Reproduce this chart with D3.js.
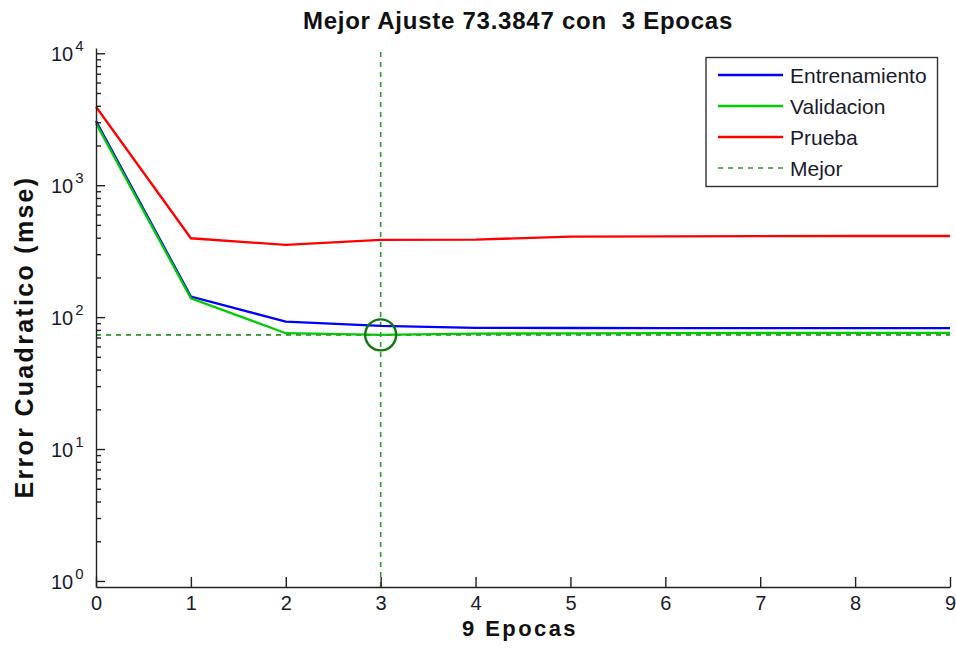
<!DOCTYPE html>
<html>
<head>
<meta charset="utf-8">
<script src="https://cdn.jsdelivr.net/npm/d3@7"></script>
<style>
  html, body { margin: 0; padding: 0; background: #fff; }
  svg { display: block; font-family: "Liberation Sans", Arial, sans-serif; }
</style>
</head>
<body>
<svg id="chart" width="956" height="648"></svg>
<script>
// Training performance per epoch (mean squared error, log scale)
const epochs = [0, 1, 2, 3, 4, 5, 6, 7, 8, 9];
const entrenamiento = [3070, 143, 92.6, 85.9, 83.0, 82.7, 82.5, 82.5, 82.4, 82.4];
const validacion    = [2945, 139, 75.5, 73.3847, 75.0, 75.3, 75.6, 75.8, 76.0, 76.0];
const prueba        = [3935, 396, 353, 385, 387, 408, 410, 411, 412, 412];
const bestEpoch = 3;
const bestValue = 73.3847;
const xTicks = [0, 1, 2, 3, 4, 5, 6, 7, 8, 9];
const yDecades = [0, 1, 2, 3, 4];
const seriesNames = ["Entrenamiento", "Validacion", "Prueba", "Mejor"];
const titleText = "Mejor Ajuste 73.3847 con  3 Epocas";
const xLabelText = "9 Epocas";
const yLabelText = "Error Cuadratico (mse)";

const colors = { train: "#0000ff", val: "#00cc00", test: "#ff0000", best: "#2e9a2e", circle: "#0e780e" };

const svg = d3.select("#chart");
const plotLeft = 96, plotRight = 950, plotTop = 48, plotBottom = 587;

const x = d3.scaleLinear().domain([0, 9]).range([plotLeft, plotRight]);
const y = d3.scaleLog().domain([0.9, 10965]).range([plotBottom, plotTop]);

// Best-epoch guide lines
svg.append("line")
  .attr("x1", x(bestEpoch)).attr("x2", x(bestEpoch))
  .attr("y1", plotTop + 4).attr("y2", plotBottom)
  .attr("stroke", colors.best).attr("stroke-width", 1.6)
  .attr("stroke-dasharray", "5,5");
svg.append("line")
  .attr("x1", plotLeft).attr("x2", plotRight)
  .attr("y1", y(bestValue)).attr("y2", y(bestValue))
  .attr("stroke", colors.best).attr("stroke-width", 1.6)
  .attr("stroke-dasharray", "5,5");

// Series lines
const line = d3.line().x((d, i) => x(epochs[i])).y(d => y(d));
[[prueba, colors.test], [entrenamiento, colors.train], [validacion, colors.val]].forEach(([data, c]) => {
  svg.append("path").datum(data)
    .attr("fill", "none").attr("stroke", c).attr("stroke-width", 2.3)
    .attr("stroke-linejoin", "miter")
    .attr("d", line);
});

// Horizontal guide again on top of the validation curve
svg.append("line")
  .attr("x1", plotLeft).attr("x2", plotRight)
  .attr("y1", y(bestValue)).attr("y2", y(bestValue))
  .attr("stroke", colors.best).attr("stroke-width", 1.2)
  .attr("stroke-dasharray", "5,5").attr("opacity", 0.7);

// Best point marker
svg.append("circle")
  .attr("cx", x(bestEpoch)).attr("cy", y(bestValue)).attr("r", 15.5)
  .attr("fill", "none").attr("stroke", colors.circle).attr("stroke-width", 2.4);

// X axis (ticks inward)
const xAxis = d3.axisBottom(x).tickValues(xTicks).tickFormat(d3.format("d"))
  .tickSizeInner(-10).tickSizeOuter(0).tickPadding(9);
const gx = svg.append("g").attr("transform", `translate(0,${plotBottom})`).call(xAxis);
gx.selectAll("text").attr("font-size", 20).attr("fill", "#1a1a2a").attr("font-family", "Liberation Sans, Arial, sans-serif");

// Y axis: minor ticks
const minorVals = [];
yDecades.slice(0, -1).forEach(e => { for (let m = 2; m <= 9; m++) minorVals.push(m * Math.pow(10, e)); });
const gyMinor = svg.append("g").attr("transform", `translate(${plotLeft},0)`)
  .call(d3.axisLeft(y).tickValues(minorVals).tickFormat("").tickSizeInner(-5).tickSizeOuter(0));
gyMinor.select(".domain").remove();

// Y axis: decades with exponent labels
const yAxis = d3.axisLeft(y).tickValues(yDecades.map(e => Math.pow(10, e)))
  .tickFormat(() => "10").tickSizeInner(-9).tickSizeOuter(0).tickPadding(12.5);
const gy = svg.append("g").attr("transform", `translate(${plotLeft},0)`).call(yAxis);
gy.selectAll("text")
  .attr("font-size", 20).attr("fill", "#1a1a2a").attr("font-family", "Liberation Sans, Arial, sans-serif")
  .attr("dy", "0.38em")
  .each(function(d) {
    d3.select(this).append("tspan")
      .attr("font-size", 15).attr("dy", "-0.66em").attr("dx", "2")
      .text(Math.round(Math.log10(d)));
  });

svg.selectAll(".domain, .tick line").attr("stroke", "#222").attr("stroke-width", 1.4);

// Titles
svg.append("text").attr("x", 518).attr("y", 29).attr("text-anchor", "middle")
  .attr("font-size", 24).attr("font-weight", "bold").attr("letter-spacing", 0.75)
  .style("white-space", "pre").attr("xml:space", "preserve")
  .attr("fill", "#111").text(titleText);
svg.append("text").attr("x", 520).attr("y", 636).attr("text-anchor", "middle")
  .attr("font-size", 22).attr("font-weight", "bold").attr("letter-spacing", 2.4)
  .attr("fill", "#111").text(xLabelText);
svg.append("text").attr("transform", "translate(33,337) rotate(-90)").attr("text-anchor", "middle")
  .attr("font-size", 25).attr("font-weight", "bold").attr("letter-spacing", 2.3)
  .attr("fill", "#111").text(yLabelText);

// Legend
const legend = svg.append("g");
legend.append("rect").attr("x", 706).attr("y", 57.5).attr("width", 231.5).attr("height", 129)
  .attr("fill", "#fff").attr("stroke", "#333").attr("stroke-width", 1.4);
const legendItems = [
  { name: seriesNames[0], color: colors.train, dash: null, w: 2.5 },
  { name: seriesNames[1], color: colors.val, dash: null, w: 2.5 },
  { name: seriesNames[2], color: colors.test, dash: null, w: 2.5 },
  { name: seriesNames[3], color: colors.best, dash: "5,5", w: 1.6 }
];
legendItems.forEach((it, i) => {
  const cy = 75 + i * 31;
  legend.append("line").attr("x1", 718).attr("x2", 783).attr("y1", cy).attr("y2", cy)
    .attr("stroke", it.color).attr("stroke-width", it.w)
    .attr("stroke-dasharray", it.dash);
  legend.append("text").attr("x", 790).attr("y", cy + 7.5)
    .attr("font-size", 21).attr("fill", "#1a1a2a").text(it.name);
});
</script>
</body>
</html>
